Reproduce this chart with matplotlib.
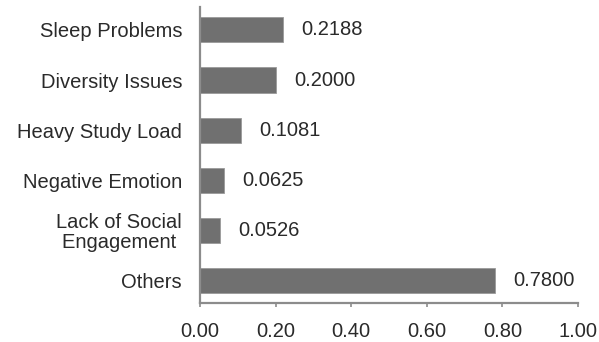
import matplotlib.pyplot as plt
import numpy as np

# data
categories = ['Sleep Problems', 'Diversity Issues', 'Heavy Study Load',
              'Negative Emotion', 'Lack of Social\nEngagement ', 'Others']
values = [0.2188, 0.2000, 0.1081, 0.0625, 0.0526, 0.7800]
value_labels = ['0.2188', '0.2000', '0.1081', '0.0625', '0.0526', '0.7800']
xticks = [0.0, 0.2, 0.4, 0.6, 0.8, 1.0]

plt.rcParams['font.family'] = ['Liberation Sans', 'DejaVu Sans']


def main():
    fig = plt.figure(figsize=(5.99, 3.42), dpi=100)
    ax = fig.add_axes([0.334, 0.114, 0.631, 0.866])

    y = np.arange(len(categories))
    ax.barh(y, values, height=0.5, color='#707070', edgecolor='#9a9a9a', linewidth=0.6)

    # value labels to the right of each bar
    for yi, v, lab in zip(y, values, value_labels):
        ax.annotate(lab, (v, yi), xytext=(13.5, 0), textcoords='offset points',
                    ha='left', va='center', fontsize=14.5, color='#2a2a2a')

    ax.set_xlim(0, 1.0)
    ax.set_ylim(len(categories) - 0.55, -0.46)
    ax.set_xticks(xticks)
    ax.set_xticklabels([f'{t:.2f}' for t in xticks], fontsize=14.5, color='#2a2a2a')
    ax.set_yticks(y)
    ax.set_yticklabels(categories, fontsize=14.5, color='#2a2a2a', multialignment='right',
                       linespacing=1.05)

    for s in ['top', 'right']:
        ax.spines[s].set_visible(False)
    for s in ['left', 'bottom']:
        ax.spines[s].set_color('#8c8c8c')
        ax.spines[s].set_linewidth(1.6)

    ax.tick_params(axis='y', length=0, pad=13)
    ax.tick_params(axis='x', length=3, width=1.2, color='#8c8c8c', pad=11)

    fig.savefig('out.png', dpi=100)


if __name__ == '__main__':
    main()
